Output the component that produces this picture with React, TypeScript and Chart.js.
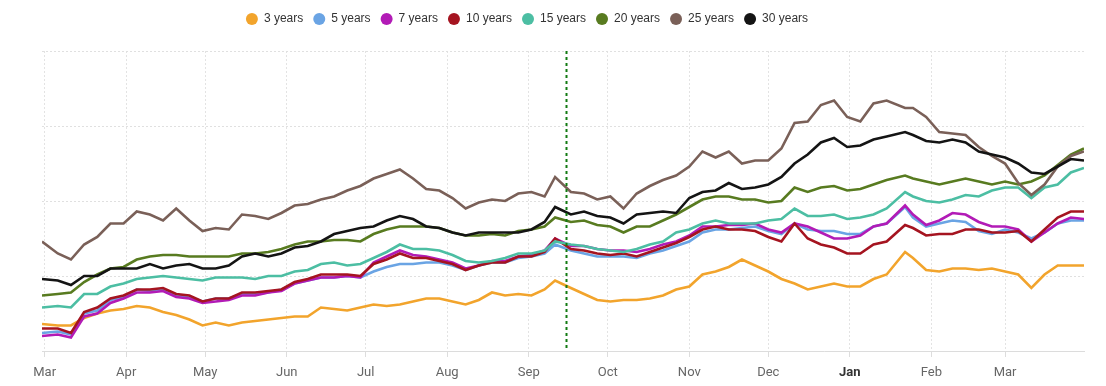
import React, { useEffect, useRef } from 'react';
import { Chart, registerables } from 'chart.js';

Chart.register(...registerables);

// Day offsets from 1 March (x axis), shared by all series
const DAYS = [
  -1, 5, 10, 15, 20, 25, 30, 35, 40, 45,
  50, 55, 60, 65, 70, 75, 80, 85, 90, 95,
  100, 105, 110, 115, 120, 125, 130, 135, 140, 145,
  150, 155, 160, 165, 170, 175, 180, 185, 190, 194,
  200, 205, 210, 215, 220, 225, 230, 235, 240, 245,
  250, 255, 260, 265, 270, 275, 280, 285, 290, 295,
  300, 305, 310, 315, 320, 327, 330, 335, 340, 345,
  350, 355, 360, 365, 370, 375, 380, 385, 390, 395,
];

const MONTH_TICKS = [0, 31, 61, 92, 122, 153, 184, 214, 245, 275, 306, 337, 365];
const MONTH_LABELS = ['Mar', 'Apr', 'May', 'Jun', 'Jul', 'Aug', 'Sep', 'Oct', 'Nov', 'Dec', 'Jan', 'Feb', 'Mar'];
const YEAR_START_TICK = 306;
const MARKER_DAY = 198;

const SERIES_LABELS = ['3 years', '5 years', '7 years', '10 years', '15 years', '20 years', '25 years', '30 years'];
const SERIES_COLORS = ['#f2a42c', '#6aa4e4', '#b21bb6', '#a51420', '#4cbea3', '#587b20', '#7a6058', '#141414'];

const Y3 = [
  2.18, 2.17, 2.17, 2.22, 2.25, 2.27, 2.28, 2.30, 2.29, 2.26,
  2.24, 2.21, 2.17, 2.19, 2.17, 2.19, 2.20, 2.21, 2.22, 2.23,
  2.23, 2.29, 2.28, 2.27, 2.29, 2.31, 2.30, 2.31, 2.33, 2.35,
  2.35, 2.33, 2.31, 2.34, 2.39, 2.37, 2.38, 2.37, 2.41, 2.47,
  2.42, 2.38, 2.34, 2.33, 2.34, 2.34, 2.35, 2.37, 2.41, 2.43,
  2.51, 2.53, 2.56, 2.61, 2.57, 2.53, 2.48, 2.45, 2.41, 2.43,
  2.45, 2.43, 2.43, 2.48, 2.51, 2.66, 2.62, 2.54, 2.53, 2.55,
  2.55, 2.54, 2.55, 2.53, 2.51, 2.42, 2.51, 2.57, 2.57, 2.57,
];
const Y5 = [
  2.12, 2.13, 2.11, 2.25, 2.27, 2.34, 2.36, 2.41, 2.40, 2.41,
  2.37, 2.36, 2.33, 2.35, 2.35, 2.38, 2.38, 2.39, 2.41, 2.45,
  2.47, 2.49, 2.49, 2.50, 2.49, 2.53, 2.56, 2.58, 2.58, 2.59,
  2.59, 2.57, 2.54, 2.57, 2.59, 2.59, 2.62, 2.63, 2.65, 2.71,
  2.67, 2.65, 2.63, 2.63, 2.63, 2.62, 2.65, 2.67, 2.70, 2.73,
  2.79, 2.81, 2.81, 2.82, 2.83, 2.80, 2.78, 2.85, 2.81, 2.80,
  2.80, 2.78, 2.78, 2.83, 2.85, 2.96, 2.89, 2.83, 2.85, 2.87,
  2.86, 2.80, 2.78, 2.81, 2.79, 2.75, 2.79, 2.85, 2.87, 2.87,
];
const Y7 = [
  2.10, 2.11, 2.09, 2.23, 2.25, 2.32, 2.35, 2.39, 2.39, 2.40,
  2.36, 2.35, 2.32, 2.33, 2.34, 2.37, 2.37, 2.39, 2.40, 2.45,
  2.47, 2.49, 2.49, 2.50, 2.49, 2.59, 2.63, 2.67, 2.64, 2.63,
  2.61, 2.59, 2.55, 2.57, 2.60, 2.60, 2.63, 2.64, 2.67, 2.75,
  2.70, 2.70, 2.68, 2.67, 2.67, 2.66, 2.68, 2.71, 2.73, 2.77,
  2.83, 2.83, 2.84, 2.84, 2.85, 2.81, 2.79, 2.85, 2.83, 2.79,
  2.75, 2.75, 2.77, 2.83, 2.85, 2.97, 2.91, 2.84, 2.87, 2.92,
  2.91, 2.86, 2.83, 2.83, 2.81, 2.73, 2.79, 2.85, 2.89, 2.88,
];
const Y10 = [
  2.15, 2.15, 2.12, 2.26, 2.29, 2.35, 2.37, 2.41, 2.41, 2.42,
  2.38, 2.37, 2.33, 2.35, 2.35, 2.39, 2.39, 2.40, 2.41, 2.46,
  2.48, 2.51, 2.51, 2.51, 2.50, 2.58, 2.61, 2.65, 2.62, 2.62,
  2.60, 2.58, 2.54, 2.57, 2.59, 2.59, 2.63, 2.63, 2.66, 2.75,
  2.68, 2.67, 2.65, 2.64, 2.65, 2.63, 2.66, 2.69, 2.72, 2.76,
  2.81, 2.83, 2.81, 2.81, 2.80, 2.76, 2.73, 2.85, 2.75, 2.71,
  2.69, 2.65, 2.65, 2.71, 2.73, 2.84, 2.82, 2.77, 2.78, 2.78,
  2.81, 2.81, 2.79, 2.79, 2.80, 2.73, 2.81, 2.89, 2.93, 2.93,
];
const Y15 = [
  2.29, 2.30, 2.29, 2.38, 2.38, 2.43, 2.45, 2.48, 2.49, 2.50,
  2.49, 2.48, 2.47, 2.49, 2.49, 2.49, 2.48, 2.50, 2.50, 2.53,
  2.54, 2.58, 2.59, 2.57, 2.58, 2.62, 2.66, 2.71, 2.68, 2.68,
  2.67, 2.64, 2.60, 2.59, 2.60, 2.62, 2.65, 2.65, 2.67, 2.73,
  2.71, 2.70, 2.68, 2.67, 2.66, 2.68, 2.71, 2.73, 2.79, 2.81,
  2.85, 2.87, 2.85, 2.85, 2.85, 2.87, 2.88, 2.95, 2.90, 2.90,
  2.91, 2.88, 2.89, 2.91, 2.95, 3.06, 3.03, 3.00, 2.99, 3.01,
  3.04, 3.03, 3.07, 3.09, 3.09, 3.02, 3.09, 3.11, 3.19, 3.22,
];
const Y20 = [
  2.37, 2.38, 2.39, 2.46, 2.51, 2.55, 2.56, 2.61, 2.63, 2.64,
  2.64, 2.63, 2.63, 2.63, 2.63, 2.65, 2.65, 2.66, 2.68, 2.71,
  2.73, 2.73, 2.74, 2.74, 2.73, 2.78, 2.81, 2.83, 2.83, 2.83,
  2.82, 2.79, 2.77, 2.77, 2.78, 2.77, 2.80, 2.81, 2.83, 2.89,
  2.86, 2.87, 2.84, 2.83, 2.79, 2.83, 2.83, 2.87, 2.91, 2.96,
  3.01, 3.03, 3.03, 3.01, 3.01, 2.99, 3.00, 3.09, 3.06, 3.09,
  3.10, 3.07, 3.08, 3.11, 3.14, 3.17, 3.15, 3.13, 3.11, 3.13,
  3.15, 3.13, 3.11, 3.13, 3.11, 3.13, 3.17, 3.24, 3.31, 3.35,
];
const Y25 = [
  2.73, 2.65, 2.61, 2.71, 2.76, 2.85, 2.85, 2.93, 2.91, 2.87,
  2.95, 2.87, 2.80, 2.82, 2.81, 2.91, 2.90, 2.88, 2.92, 2.97,
  2.98, 3.01, 3.03, 3.07, 3.10, 3.15, 3.18, 3.21, 3.15, 3.08,
  3.07, 3.02, 2.95, 2.99, 3.01, 3.00, 3.05, 3.06, 3.03, 3.16,
  3.06, 3.05, 3.01, 3.03, 2.95, 3.05, 3.10, 3.14, 3.17, 3.23,
  3.33, 3.29, 3.33, 3.25, 3.27, 3.27, 3.35, 3.52, 3.53, 3.64,
  3.67, 3.56, 3.53, 3.65, 3.67, 3.62, 3.62, 3.56, 3.46, 3.45,
  3.44, 3.36, 3.30, 3.25, 3.12, 3.04, 3.11, 3.23, 3.30, 3.33,
];
const Y30 = [
  2.48, 2.47, 2.44, 2.50, 2.50, 2.55, 2.55, 2.55, 2.58, 2.55,
  2.57, 2.58, 2.55, 2.55, 2.57, 2.63, 2.65, 2.63, 2.65, 2.69,
  2.70, 2.73, 2.78, 2.80, 2.82, 2.83, 2.87, 2.90, 2.88, 2.83,
  2.82, 2.79, 2.77, 2.79, 2.79, 2.79, 2.79, 2.81, 2.86, 2.96,
  2.91, 2.93, 2.90, 2.89, 2.85, 2.91, 2.92, 2.93, 2.92, 3.02,
  3.06, 3.07, 3.12, 3.08, 3.09, 3.11, 3.16, 3.25, 3.31, 3.39,
  3.42, 3.36, 3.37, 3.41, 3.43, 3.46, 3.44, 3.40, 3.39, 3.41,
  3.39, 3.33, 3.31, 3.29, 3.25, 3.19, 3.18, 3.23, 3.28, 3.27,
];

const SERIES_VALUES = [Y3, Y5, Y7, Y10, Y15, Y20, Y25, Y30];

const Y_MIN = 2.0;
const Y_MAX = 4.0;
const Y_STEP = 0.5;

const markerLine = {
  id: 'markerLine',
  afterDatasetsDraw(chart: any) {
    const { ctx, chartArea, scales } = chart;
    const x = Math.round(scales.x.getPixelForValue(MARKER_DAY)) + 0.5;
    ctx.save();
    ctx.strokeStyle = '#127a12';
    ctx.lineWidth = 2;
    ctx.setLineDash([3, 3]);
    ctx.beginPath();
    ctx.moveTo(x, chartArea.top);
    ctx.lineTo(x, chartArea.bottom);
    ctx.stroke();
    ctx.restore();
  },
};

const legendSpacer = {
  id: 'legendSpacer',
  beforeInit(chart: any) {
    const legend = chart.legend;
    if (!legend) return;
    const originalFit = legend.fit;
    legend.fit = function fit() {
      originalFit.bind(legend)();
      this.height += 16;
    };
  },
  afterLayout(chart: any) {
    const legend = chart.legend;
    if (!legend) return;
    legend.left -= 36;
    legend.right -= 36;
  },
};

export default function App() {
  const canvasRef = useRef<HTMLCanvasElement | null>(null);

  useEffect(() => {
    document.body.style.margin = '0';
    const canvas = canvasRef.current;
    if (!canvas) return;

    const datasets = SERIES_VALUES.map((vals, i) => ({
      label: SERIES_LABELS[i],
      data: DAYS.map((d, j) => ({ x: d, y: vals[j] })),
      borderColor: SERIES_COLORS[i],
      backgroundColor: SERIES_COLORS[i],
      borderWidth: 2.6,
      pointRadius: 0,
      pointHoverRadius: 0,
      tension: 0,
      fill: false,
      order: SERIES_VALUES.length - i,
    }));

    const chart = new Chart(canvas, {
      type: 'line',
      data: { datasets },
      plugins: [markerLine, legendSpacer],
      options: {
        animation: false,
        responsive: true,
        maintainAspectRatio: false,
        layout: { padding: { top: 3, left: 42, right: 22, bottom: 0 } },
        plugins: {
          tooltip: { enabled: false },
          legend: {
            position: 'top',
            labels: {
              usePointStyle: true,
              pointStyle: 'circle',
              pointStyleWidth: 12,
              boxHeight: 8.5,
              padding: 10,
              color: '#333',
              font: { family: '"Liberation Sans", Arial, sans-serif', size: 12 },
              sort: (a: any, b: any) => a.datasetIndex - b.datasetIndex,
              generateLabels: (c: any) =>
                Chart.defaults.plugins.legend.labels
                  .generateLabels(c)
                  .map((l: any) => ({ ...l, lineWidth: 0 })),
            },
          },
        },
        scales: {
          x: {
            type: 'linear',
            min: -1,
            max: 395,
            afterBuildTicks: (scale: any) => {
              scale.ticks = MONTH_TICKS.map((v) => ({ value: v }));
            },
            afterFit: (scale: any) => {
              scale.height = 35;
            },
            ticks: {
              autoSkip: false,
              maxRotation: 0,
              padding: 8,
              callback: (value: any) => {
                const idx = MONTH_TICKS.indexOf(Number(value));
                return idx >= 0 ? MONTH_LABELS[idx] : '';
              },
              color: (ctx: any) => (ctx.tick && ctx.tick.value === YEAR_START_TICK ? '#333' : '#666'),
              font: (ctx: any) => ({
                family: 'Roboto, "Liberation Sans", sans-serif',
                size: 13,
                weight: ctx.tick && ctx.tick.value === YEAR_START_TICK ? 'bold' : 'normal',
              }),
            },
            grid: {
              color: '#e3e3e3',
              lineWidth: 1,
              drawTicks: true,
              tickLength: 6,
              tickColor: '#dddddd',
              tickBorderDash: [],
            },
            border: { display: true, color: '#dcdcdc', width: 1, dash: [2, 2] },
          },
          y: {
            min: Y_MIN,
            max: Y_MAX,
            ticks: { display: false, stepSize: Y_STEP },
            grid: { color: '#e0e0e0', lineWidth: 1, drawTicks: false },
            border: { display: false, dash: [2, 2] },
          },
        },
      } as any,
    });

    return () => chart.destroy();
  }, []);

  return (
    <div style={{ width: '1106px', height: '386px', position: 'relative', background: '#fff' }}>
      <canvas ref={canvasRef} />
    </div>
  );
}
